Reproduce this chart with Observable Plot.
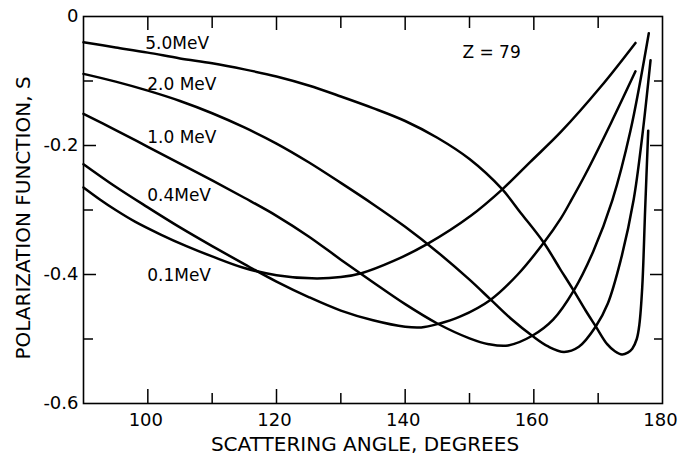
<!DOCTYPE html>
<html><head><meta charset="utf-8">
<script src="https://cdn.jsdelivr.net/npm/d3@7"></script>
<script src="https://cdn.jsdelivr.net/npm/@observablehq/plot@0.6"></script>
<style>body{margin:0;background:#fff;}</style>
</head><body><div id="chart"></div>
<script>
// Series (scattering angle in degrees, polarization function S)
const energyLabels = ["5.0MeV", "2.0 MeV", "1.0 MeV", "0.4MeV", "0.1MeV"];

const angle5_0 = [90,95,100,105,110,115,120,125,130,135,140,145,150,155,158,161.5,164,166.2,168,169.6,171.4,172.6,173.7,174.6,175.3,176.0,176.4,176.85,177.3,177.78];
const s5_0     = [-0.040,-0.048,-0.056,-0.065,-0.0725,-0.082,-0.093,-0.107,-0.124,-0.142,-0.162,-0.188,-0.221,-0.267,-0.305,-0.350,-0.390,-0.425,-0.455,-0.480,-0.508,-0.519,-0.524,-0.521,-0.515,-0.500,-0.478,-0.420,-0.300,-0.177];

const angle2_0 = [90,95,100,105,110,115,120,125,130,135,140,145,150,153.3,156.5,159.75,162.3,164.7,167,169.6,171.5,173.5,175.5,176.8,178.14];
const s2_0     = [-0.089,-0.101,-0.115,-0.131,-0.150,-0.172,-0.197,-0.226,-0.258,-0.291,-0.326,-0.365,-0.408,-0.439,-0.469,-0.495,-0.512,-0.520,-0.512,-0.481,-0.445,-0.378,-0.285,-0.190,-0.068];

const angle1_0 = [90,95,100,105,110,115,120,125,130,135,140,145,150,153,156,159.75,163,166.2,169.2,172.2,175,177.87];
const s1_0     = [-0.151,-0.176,-0.202,-0.228,-0.254,-0.281,-0.309,-0.341,-0.377,-0.412,-0.446,-0.476,-0.499,-0.508,-0.510,-0.495,-0.470,-0.425,-0.365,-0.285,-0.178,-0.026];

const angle0_4 = [90,95,100,105,110,115,120,125,130,135,140,142.5,145,148.6,153.3,157.5,161.6,164.2,165.7,168,172,175.8];
const s0_4     = [-0.229,-0.264,-0.296,-0.327,-0.356,-0.384,-0.411,-0.435,-0.456,-0.471,-0.481,-0.482,-0.477,-0.465,-0.439,-0.400,-0.350,-0.313,-0.287,-0.245,-0.165,-0.085];

const angle0_1 = [90,92.6,95,98,102,106,110,115,120,125.5,130,133.2,138.2,143.4,150.2,155.1,159.5,164.2,170.4,175.8];
const s0_1     = [-0.265,-0.284,-0.300,-0.318,-0.338,-0.356,-0.372,-0.390,-0.401,-0.406,-0.404,-0.398,-0.379,-0.353,-0.309,-0.268,-0.225,-0.179,-0.109,-0.041];

// Curve label anchors (left edge of text)
const labelAngle = [99.6, 99.9, 99.9, 99.9, 99.9];
const labelS     = [-0.0416, -0.105, -0.188, -0.278, -0.402];
const noteText = "Z = 79";
const noteAngle = 148.9, noteS = -0.0566;

// Axis ticks
const xTickLabels = [100, 120, 140, 160, 180];
const xMajorTicks = [100, 120, 140, 160];
const xMinorTicks = [110, 130, 150, 170];
const yTickLabels = [0, -0.2, -0.4, -0.6];
const yMajorTicks = [-0.2, -0.4];
const yMinorTicks = [-0.1, -0.3, -0.5];

const seriesAngles = [angle5_0, angle2_0, angle1_0, angle0_4, angle0_1];
const seriesValues = [s5_0, s2_0, s1_0, s0_4, s0_1];
const rows = energyLabels.flatMap((e, i) => seriesAngles[i].map((a, j) => ({energy: e, angle: a, s: seriesValues[i][j]})));
const labels = energyLabels.map((e, i) => ({text: e, angle: labelAngle[i], s: labelS[i]}));

const fmtY = d => d === 0 ? "0" : "-" + Math.abs(d).toFixed(1);
const font = "DejaVu Sans";

const chart = Plot.plot({
  width: 678,
  height: 457,
  marginLeft: 83,
  marginRight: 16,
  marginTop: 16,
  marginBottom: 54,
  x: {domain: [90, 180]},
  y: {domain: [-0.6, 0]},
  style: {fontFamily: font, color: "#000", background: "#fff"},
  marks: [
    Plot.frame({stroke: "#000", strokeWidth: 1.6}),
    Plot.axisX({anchor: "bottom", ticks: xMajorTicks, tickSize: -14, tickFormat: () => "", strokeWidth: 1.5, label: null}),
    Plot.axisX({anchor: "bottom", ticks: xMinorTicks, tickSize: -10, tickFormat: () => "", strokeWidth: 1.5, label: null}),
    Plot.axisX({anchor: "top", ticks: xMajorTicks, tickSize: -13, tickFormat: () => "", strokeWidth: 1.5, label: null}),
    Plot.axisX({anchor: "top", ticks: xMinorTicks, tickSize: -11, tickFormat: () => "", strokeWidth: 1.5, label: null}),
    Plot.axisY({anchor: "left", ticks: yMajorTicks, tickSize: -13, tickFormat: () => "", strokeWidth: 1.5, label: null}),
    Plot.axisY({anchor: "left", ticks: yMinorTicks, tickSize: -10, tickFormat: () => "", strokeWidth: 1.5, label: null}),
    Plot.axisY({anchor: "right", ticks: yMajorTicks, tickSize: -13, tickFormat: () => "", strokeWidth: 1.5, label: null}),
    Plot.axisY({anchor: "right", ticks: yMinorTicks, tickSize: -9, tickFormat: () => "", strokeWidth: 1.5, label: null}),
    Plot.text(xTickLabels, {x: d => d, frameAnchor: "bottom", textAnchor: "middle", lineAnchor: "middle", dx: -2, dy: 17, text: d => String(d), fontSize: 18}),
    Plot.text(yTickLabels, {y: d => d, frameAnchor: "left", dx: -5, textAnchor: "end", lineAnchor: "middle", text: fmtY, fontSize: 18}),
    Plot.line(rows, {x: "angle", y: "s", z: "energy", curve: "catmull-rom", stroke: "#000", strokeWidth: 2.5}),
    Plot.text(labels, {x: "angle", y: "s", text: "text", textAnchor: "start", fontSize: 17}),
    Plot.text([noteText], {x: () => noteAngle, y: () => noteS, text: d => d, textAnchor: "start", fontSize: 17}),
    Plot.text(["SCATTERING ANGLE, DEGREES"], {frameAnchor: "bottom", textAnchor: "middle", lineAnchor: "middle", text: d => d, dx: -8, dy: 41.5, fontSize: 20}),
    Plot.text(["POLARIZATION FUNCTION, S"], {frameAnchor: "left", textAnchor: "middle", lineAnchor: "middle", text: d => d, rotate: -90, dx: -60, dy: 8, fontSize: 20})
  ]
});
document.getElementById("chart").appendChild(chart);
</script>
</body></html>
